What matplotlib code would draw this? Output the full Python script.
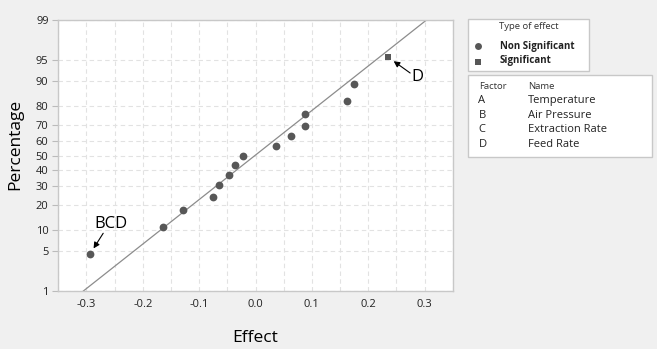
import math
import numpy as np
import matplotlib
matplotlib.use("Agg")
import matplotlib.pyplot as plt
from matplotlib.patches import Rectangle
from matplotlib.lines import Line2D

# ---------------- data ----------------
effects = [-0.294, -0.164, -0.1295, -0.0748, -0.0645, -0.0466, -0.0363, -0.0219,
           0.0363, 0.0633, 0.0875, 0.0875, 0.1623, 0.175, 0.2343]
percents = [4.5, 11.0, 17.5, 24.0, 30.5, 37.0, 43.5, 50.0,
            56.5, 63.0, 69.5, 76.0, 82.5, 89.0, 95.5]
# D (last) drawn as a square (significant), all others as circles
marker_kind = ["o"] * 14 + ["s"]
line_mu = -0.001
line_sigma = 0.1309
line_pct = [1, 99]
y_ticks = [1, 5, 10, 20, 30, 40, 50, 60, 70, 80, 90, 95, 99]
x_ticks = [-0.3, -0.2, -0.1, 0.0, 0.1, 0.2, 0.3]
factor_letters = ["A", "B", "C", "D"]
factor_names = ["Temperature", "Air Pressure", "Extraction Rate", "Feed Rate"]

# ---------------- normal probability helpers ----------------
def _ppf(p):
    p = np.clip(np.asarray(p, dtype=float), 1e-9, 1 - 1e-9)
    a = [-3.969683028665376e+01, 2.209460984245205e+02, -2.759285104469687e+02,
         1.383577518672690e+02, -3.066479806614716e+01, 2.506628277459239e+00]
    b = [-5.447609879822406e+01, 1.615858368580409e+02, -1.556989798598866e+02,
         6.680131188771972e+01, -1.328068155288572e+01]
    c = [-7.784894002430293e-03, -3.223964580411365e-01, -2.400758277161838e+00,
         -2.549732539343734e+00, 4.374664141464968e+00, 2.938163982698783e+00]
    d = [7.784695709041462e-03, 3.224671290700398e-01, 2.445134137142996e+00,
         3.754408661907416e+00]
    plow, phigh = 0.02425, 1 - 0.02425
    out = np.empty_like(p)
    lo = p < plow
    hi = p > phigh
    mid = ~(lo | hi)
    q = np.sqrt(-2 * np.log(p[lo]))
    out[lo] = (((((c[0]*q+c[1])*q+c[2])*q+c[3])*q+c[4])*q+c[5]) / \
              ((((d[0]*q+d[1])*q+d[2])*q+d[3])*q+1)
    q = np.sqrt(-2 * np.log(1 - p[hi]))
    out[hi] = -(((((c[0]*q+c[1])*q+c[2])*q+c[3])*q+c[4])*q+c[5]) / \
               ((((d[0]*q+d[1])*q+d[2])*q+d[3])*q+1)
    q = p[mid] - 0.5
    r = q * q
    out[mid] = (((((a[0]*r+a[1])*r+a[2])*r+a[3])*r+a[4])*r+a[5])*q / \
               (((((b[0]*r+b[1])*r+b[2])*r+b[3])*r+b[4])*r+1)
    return out

_erf = np.vectorize(math.erf)

def fwd(pct):
    return _ppf(np.asarray(pct, dtype=float) / 100.0)

def inv(z):
    z = np.asarray(z, dtype=float)
    return 100.0 * 0.5 * (1 + _erf(z / math.sqrt(2)))

# ---------------- figure ----------------
FONT = ["Open Sans", "DejaVu Sans"]
plt.rcParams["font.family"] = FONT
W, H = 657, 349
fig = plt.figure(figsize=(W / 100, H / 100), dpi=100)
fig.patch.set_facecolor("#f0f0f0")

def fx(px):
    return px / W

def fy(py):
    return 1 - py / H

L, R, T, B = 58.3, 452.7, 20, 291
ax = fig.add_axes([fx(L), fy(B), fx(R) - fx(L), fy(T) - fy(B)])
ax.set_facecolor("white")
ax.set_yscale("function", functions=(fwd, inv))
ax.set_ylim(1, 99)
ax.set_xlim(-0.3415, 0.3397)

ax.set_yticks(y_ticks)
ax.set_yticklabels([str(t) for t in y_ticks])
ax.set_xticks(x_ticks)
ax.set_xticklabels([f"{t:.1f}" for t in x_ticks])
ax.set_xticks(np.arange(-0.35, 0.351, 0.05), minor=True)
ax.yaxis.set_minor_locator(matplotlib.ticker.NullLocator())
ax.grid(True, which="both", axis="x", color="#e2e2e2", linestyle=(0, (4, 3)), linewidth=0.8)
ax.grid(True, which="major", axis="y", color="#e2e2e2", linestyle=(0, (4, 3)), linewidth=0.8)
ax.set_axisbelow(True)
ax.tick_params(axis="x", which="both", length=0, pad=6, labelsize=8, labelcolor="#222222")
ax.tick_params(axis="y", which="major", length=4, width=0.8, color="#bbbbbb", pad=3,
               labelsize=8, labelcolor="#222222")
for s in ax.spines.values():
    s.set_color("#c8c8c8")
    s.set_linewidth(1.0)

# fitted line
lx = [line_mu + line_sigma * float(fwd(p)) for p in line_pct]
ax.plot(lx, line_pct, color="#8c8c8c", linewidth=0.9, zorder=2)

# points
for x, p, m in zip(effects, percents, marker_kind):
    ax.plot([x], [p], marker=m, linestyle="none", color="#575757",
            markersize=5.6 if m == "o" else 5.0, markeredgewidth=0, zorder=3)

# annotations
ax.annotate("", xy=(effects[0], percents[0]), xytext=(9.6, 15.1), textcoords="offset points",
            arrowprops=dict(arrowstyle="-|>,head_length=0.35,head_width=0.18", color="black",
                            lw=0.8, shrinkA=0, shrinkB=5))
ax.annotate("BCD", xy=(effects[0], percents[0]), xytext=(15.3, 21.8), textcoords="offset points",
            ha="center", va="center", fontsize=12)
ax.annotate("", xy=(effects[14], percents[14]), xytext=(16.3, -11.7), textcoords="offset points",
            arrowprops=dict(arrowstyle="-|>,head_length=0.35,head_width=0.18", color="black",
                            lw=0.8, shrinkA=0, shrinkB=5.5))
ax.annotate("D", xy=(effects[14], percents[14]), xytext=(21.6, -14.9), textcoords="offset points",
            ha="center", va="center", fontsize=12)

ax.set_xlabel("Effect", fontsize=12.5, labelpad=14)
ax.set_ylabel("Percentage", fontsize=12.5)
ax.yaxis.set_label_coords((23.5 - L) / (R - L), (B - 144) / (B - T))

# ---------------- legend boxes ----------------
def box(x0, y0, x1, y1):
    fig.patches.append(Rectangle((fx(x0), fy(y1)), fx(x1) - fx(x0), fy(y0) - fy(y1),
                                 transform=fig.transFigure, facecolor="white",
                                 edgecolor="#c8c8c8", linewidth=1.0))

box(468.3, 19.3, 589.3, 70.7)
fig.text(fx(499.3), fy(26.7), "Type of effect", fontsize=6.8, va="center", ha="left", color="#333333")
fig.lines.append(Line2D([fx(478.3)], [fy(46)], marker="o", color="#575757", markersize=5.0,
                        markeredgewidth=0, transform=fig.transFigure))
fig.lines.append(Line2D([fx(478.3)], [fy(61.5)], marker="s", color="#575757", markersize=4.6,
                        markeredgewidth=0, transform=fig.transFigure))
fig.text(fx(500), fy(46), "Non Significant", fontsize=7, fontweight="bold", va="center", ha="left",
         color="#222222")
fig.text(fx(500), fy(60.3), "Significant", fontsize=7, fontweight="bold", va="center", ha="left",
         color="#222222")

box(468.3, 74.7, 651.7, 157.3)
fig.text(fx(479), fy(86.7), "Factor", fontsize=6.8, va="center", ha="left", color="#333333")
fig.text(fx(528.3), fy(86.7), "Name", fontsize=6.8, va="center", ha="left", color="#333333")
row_y = [100.7, 115, 129.3, 144]
for yy, letter, name in zip(row_y, factor_letters, factor_names):
    fig.text(fx(478.5), fy(yy), letter, fontsize=8, va="center", ha="left", color="#222222")
    fig.text(fx(528.3), fy(yy), name, fontsize=8, va="center", ha="left", color="#222222")

fig.savefig("out.png", dpi=100, facecolor=fig.get_facecolor())
